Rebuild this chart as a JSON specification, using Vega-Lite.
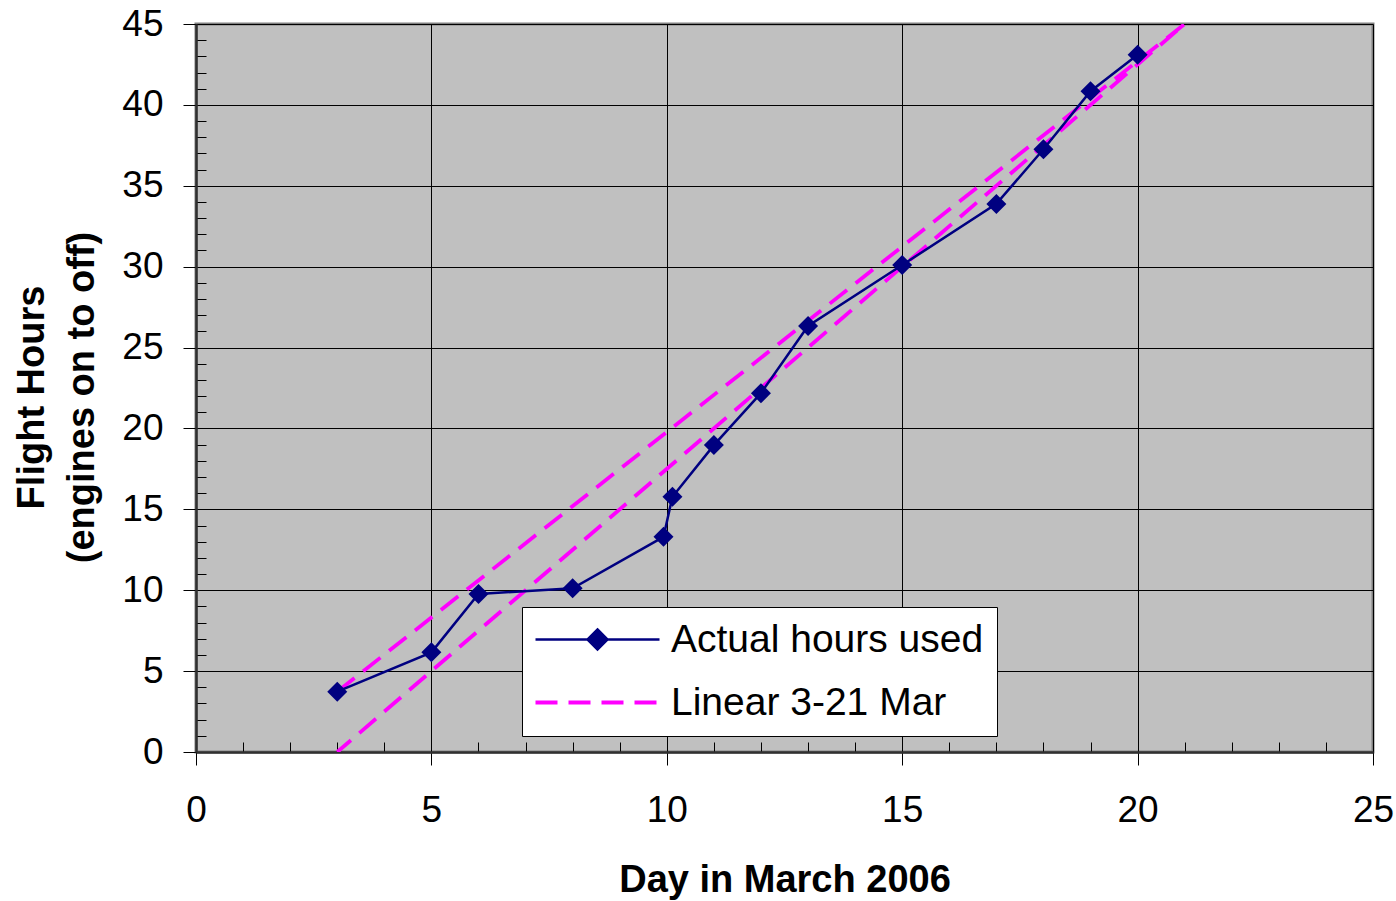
{
  "$schema": "https://vega.github.io/schema/vega-lite/v6.json",
  "width": 1177,
  "height": 728,
  "autosize": "none",
  "padding": {"left": 196, "top": 24, "right": 23, "bottom": 149},
  "background": "white",
  "config": {
    "view": {"fill": "#C0C0C0", "stroke": "#808080", "strokeWidth": 3},
    "font": "Liberation Sans"
  },
  "data": {
    "values": [
      {"series": "Actual hours used", "day": 3, "hours": 3.73, "o": 1},
      {"series": "Actual hours used", "day": 5, "hours": 6.16, "o": 2},
      {"series": "Actual hours used", "day": 6, "hours": 9.77, "o": 3},
      {"series": "Actual hours used", "day": 8, "hours": 10.12, "o": 4},
      {"series": "Actual hours used", "day": 9.93, "hours": 13.3, "o": 5},
      {"series": "Actual hours used", "day": 10.12, "hours": 15.78, "o": 6},
      {"series": "Actual hours used", "day": 11, "hours": 18.97, "o": 7},
      {"series": "Actual hours used", "day": 12, "hours": 22.18, "o": 8},
      {"series": "Actual hours used", "day": 13, "hours": 26.33, "o": 9},
      {"series": "Actual hours used", "day": 15, "hours": 30.1, "o": 10},
      {"series": "Actual hours used", "day": 17, "hours": 33.88, "o": 11},
      {"series": "Actual hours used", "day": 18, "hours": 37.26, "o": 12},
      {"series": "Actual hours used", "day": 19, "hours": 40.85, "o": 13},
      {"series": "Actual hours used", "day": 20, "hours": 43.1, "o": 14},
      {"series": "Linear 3-21 Mar", "day": 3, "hours": 3.73, "o": 1},
      {"series": "Linear 3-21 Mar", "day": 21, "hours": 45, "o": 2},
      {"series": "Linear 3-21 Mar", "day": 3, "hours": 0, "o": 3}
    ]
  },
  "encoding": {
    "x": {
      "field": "day",
      "type": "quantitative",
      "scale": {"domain": [0, 25], "nice": false, "zero": false},
      "axis": {
        "values": [0,1,2,3,4,5,6,7,8,9,10,11,12,13,14,15,16,17,18,19,20,21,22,23,24,25],
        "title": "Day in March 2006",
        "titleFont": "Liberation Sans",
        "titleFontSize": 38,
        "titleFontWeight": "bold",
        "titleColor": "black",
        "titlePadding": 33,
        "labelExpr": "datum.value % 5 === 0 ? datum.label : ''",
        "labelFont": "Liberation Sans",
        "labelFontSize": 37,
        "labelColor": "black",
        "labelPadding": 27,
        "labelOverlap": false,
        "labelFlush": false,
        "tickSize": {"condition": {"test": "datum.value % 5 === 0", "value": 13}, "value": -10},
        "tickColor": "black",
        "tickWidth": 1,
        "grid": true,
        "gridColor": "black",
        "gridWidth": 1,
        "gridOpacity": {"condition": {"test": "datum.value % 5 === 0", "value": 1}, "value": 0},
        "domainColor": "#303030",
        "domainWidth": 2.5
      }
    },
    "y": {
      "field": "hours",
      "type": "quantitative",
      "scale": {"domain": [0, 45], "nice": false},
      "axis": {
        "values": [0,1,2,3,4,5,6,7,8,9,10,11,12,13,14,15,16,17,18,19,20,21,22,23,24,25,26,27,28,29,30,31,32,33,34,35,36,37,38,39,40,41,42,43,44,45],
        "title": ["Flight Hours", "(engines on to off)"],
        "titleFont": "Liberation Sans",
        "titleFontSize": 38,
        "titleFontWeight": "bold",
        "titleColor": "black",
        "titleLineHeight": 50,
        "titlePadding": 20,
        "titleY": 373,
        "labelExpr": "datum.value % 5 === 0 ? datum.label : ''",
        "labelFont": "Liberation Sans",
        "labelFontSize": 37,
        "labelColor": "black",
        "labelPadding": 20,
        "labelOverlap": false,
        "labelFlush": false,
        "tickSize": {"condition": {"test": "datum.value % 5 === 0", "value": 13}, "value": -10},
        "tickColor": "black",
        "tickWidth": 1,
        "grid": true,
        "gridColor": "black",
        "gridWidth": 1,
        "gridOpacity": {"condition": {"test": "datum.value % 5 === 0", "value": 1}, "value": 0},
        "domainColor": "#303030",
        "domainWidth": 2.5
      }
    },
    "color": {
      "field": "series",
      "type": "nominal",
      "scale": {"domain": ["Actual hours used", "Linear 3-21 Mar"], "range": ["#000080", "#FF00FF"]},
      "legend": {
        "title": null,
        "orient": "none",
        "legendX": 326,
        "legendY": 583,
        "padding": 13,
        "fillColor": "white",
        "strokeColor": "black",
        "labelFont": "Liberation Sans",
        "labelFontSize": 39,
        "labelColor": "black",
        "labelLimit": 0,
        "symbolSize": 1600,
        "symbolOffset": 43,
        "labelOffset": 54,
        "rowPadding": 23,
        "symbolStrokeWidth": 2.5,
        "encode": {
          "symbols": {
            "update": {
              "shape": {"signal": "datum.value === 'Actual hours used' ? 'M-3.1,0L3.1,0M0,-0.5L0.5,0L0,0.5L-0.5,0Z' : 'M-3.1,0L3.1,0'"},
              "fill": {"signal": "datum.value === 'Actual hours used' ? '#000080' : 'transparent'"},
              "strokeWidth": {"signal": "datum.value === 'Actual hours used' ? 2.5 : 3.8"},
              "strokeDash": {"signal": "datum.value === 'Actual hours used' ? [] : [22, 11]"}
            }
          }
        }
      }
    }
  },
  "layer": [
    {
      "transform": [{"filter": "datum.series === 'Linear 3-21 Mar'"}],
      "mark": {"type": "line", "strokeWidth": 3.8, "strokeDash": [22, 11], "clip": true},
      "encoding": {"order": {"field": "o", "type": "quantitative"}}
    },
    {
      "transform": [{"filter": "datum.series === 'Actual hours used'"}],
      "mark": {"type": "line", "strokeWidth": 2.5, "point": {"shape": "diamond", "size": 400, "filled": true, "opacity": 1}},
      "encoding": {"order": {"field": "o", "type": "quantitative"}}
    }
  ]
}
